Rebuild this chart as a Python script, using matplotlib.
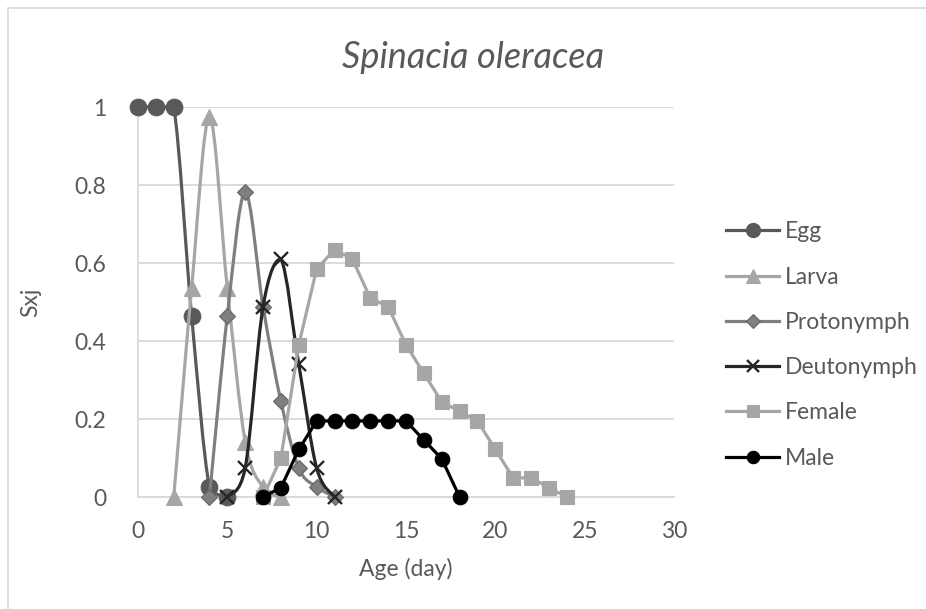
import matplotlib
matplotlib.use("Agg")
import matplotlib.pyplot as plt
from matplotlib.path import Path
from matplotlib.patches import PathPatch, Rectangle
from matplotlib.lines import Line2D

plt.rcParams["font.family"] = ["Lato", "DejaVu Sans"]

# survival by stage (Sxj) against age in days
egg_days = [0, 1, 2, 3, 4, 5]
egg_sxj = [1, 1, 1, 0.465, 0.025, 0]

larva_days = [2, 3, 4, 5, 6, 7, 8]
larva_sxj = [0, 0.535, 0.975, 0.535, 0.142, 0.025, 0]

proto_days = [4, 5, 6, 7, 8, 9, 10, 11]
proto_sxj = [0, 0.465, 0.782, 0.488, 0.245, 0.074, 0.026, 0]

deuto_days = [5, 6, 7, 8, 9, 10, 11]
deuto_sxj = [0, 0.074, 0.488, 0.61, 0.34, 0.074, 0]

female_days = [7, 8, 9, 10, 11, 12, 13, 14, 15, 16, 17, 18, 19, 20, 21, 22, 23, 24]
female_sxj = [0, 0.1, 0.39, 0.585, 0.634, 0.61, 0.51, 0.488, 0.39, 0.317, 0.244,
              0.22, 0.195, 0.122, 0.049, 0.049, 0.024, 0]

male_days = [7, 8, 9, 10, 11, 12, 13, 14, 15, 16, 17, 18]
male_sxj = [0, 0.024, 0.122, 0.195, 0.195, 0.195, 0.195, 0.195, 0.195, 0.146, 0.098, 0]

x_ticks = [0, 5, 10, 15, 20, 25, 30]
y_ticks = [0, 0.2, 0.4, 0.6, 0.8, 1]

TXT = "#595959"
GRID = "#D9D9D9"
FS = 16.5


def smooth_path(xs, ys):
    # excel-like smoothed line: cubic bezier through the points,
    # control points kept inside each segment's y range (no overshoot)
    pts = list(zip(xs, ys))
    n = len(pts)
    verts = [pts[0]]
    codes = [Path.MOVETO]
    for i in range(n - 1):
        p0 = pts[i - 1] if i > 0 else pts[i]
        p1 = pts[i]
        p2 = pts[i + 1]
        p3 = pts[i + 2] if i + 2 < n else pts[i + 1]
        lo, hi = min(p1[1], p2[1]), max(p1[1], p2[1])
        c1y = min(max(p1[1] + (p2[1] - p0[1]) / 6, lo), hi)
        c2y = min(max(p2[1] - (p3[1] - p1[1]) / 6, lo), hi)
        c1 = (p1[0] + (p2[0] - p0[0]) / 6, c1y)
        c2 = (p2[0] - (p3[0] - p1[0]) / 6, c2y)
        verts += [c1, c2, p2]
        codes += [Path.CURVE4] * 3
    return Path(verts, codes)


fig = plt.figure(figsize=(9.26, 6.09), dpi=100)
ax = fig.add_axes([138 / 926, 1 - 497 / 609, (674 - 138) / 926, (497 - 107) / 609])

series = [
    ("Egg", egg_days, egg_sxj, "#595959", "o", 12, True),
    ("Larva", larva_days, larva_sxj, "#A6A6A6", "^", 12, True),
    ("Protonymph", proto_days, proto_sxj, "#7F7F7F", "D", 8.3, True),
    ("Deutonymph", deuto_days, deuto_sxj, "#262626", "x", 9.5, True),
    ("Female", female_days, female_sxj, "#A6A6A6", "s", 10, False),
    ("Male", male_days, male_sxj, "#000000", "o", 10.5, False),
]

handles = []
for z, (name, xs, ys, col, mk, ms, smooth) in enumerate(series):
    lw = 2.3
    mec = "#666666" if mk == "D" else col
    mew = 1.7 if mk == "x" else 0.8
    if smooth:
        patch = PathPatch(smooth_path(xs, ys), facecolor="none", edgecolor=col,
                          lw=lw, zorder=3 + z, clip_on=False, capstyle="round")
        ax.add_patch(patch)
    else:
        ax.plot(xs, ys, "-", color=col, lw=lw, zorder=3 + z, clip_on=False)
    ax.plot(xs, ys, ls="none", marker=mk, ms=ms, color=col, mec=mec,
            mew=mew, zorder=3.5 + z, clip_on=False)
    handles.append(Line2D([], [], color=col, lw=lw, marker=mk, ms=ms * 0.85,
                          mec=mec, mew=mew, label=name))

ax.set_xlim(0, 30)
ax.set_ylim(0, 1)
ax.set_xticks(x_ticks)
ax.set_yticks(y_ticks)
ax.set_xticklabels([str(t) for t in x_ticks])
ax.set_yticklabels(["0", "0.2", "0.4", "0.6", "0.8", "1"])
ax.tick_params(length=0, labelsize=FS, labelcolor=TXT)
ax.tick_params(axis="x", pad=17)
ax.tick_params(axis="y", pad=23)
ax.grid(axis="y", color=GRID, lw=1.3)
ax.set_axisbelow(True)
for s in ["top", "right"]:
    ax.spines[s].set_visible(False)
for s in ["left", "bottom"]:
    ax.spines[s].set_color(GRID)
    ax.spines[s].set_linewidth(1.3)

ax.set_xlabel("Age (day)", fontsize=FS, color=TXT, labelpad=12)
ax.set_ylabel("Sxj", fontsize=FS, color=TXT, labelpad=24)
fig.text(473 / 926, 1 - 57 / 609, "Spinacia oleracea", fontsize=26, style="italic",
         color=TXT, ha="center", va="center")

fig.legend(handles=handles, loc="center left", bbox_to_anchor=(717 / 926, 1 - 345 / 609),
           frameon=False, fontsize=FS, labelcolor=TXT, handlelength=2.3,
           handletextpad=0.26, labelspacing=1.06, numpoints=1, borderaxespad=0)

fig.patches.append(Rectangle((8 / 926, -0.1), 1.2, 1.1 - 8 / 609, transform=fig.transFigure,
                             fill=False, edgecolor=GRID, lw=1.2))

fig.savefig("out.png", dpi=100)
plt.close(fig)
